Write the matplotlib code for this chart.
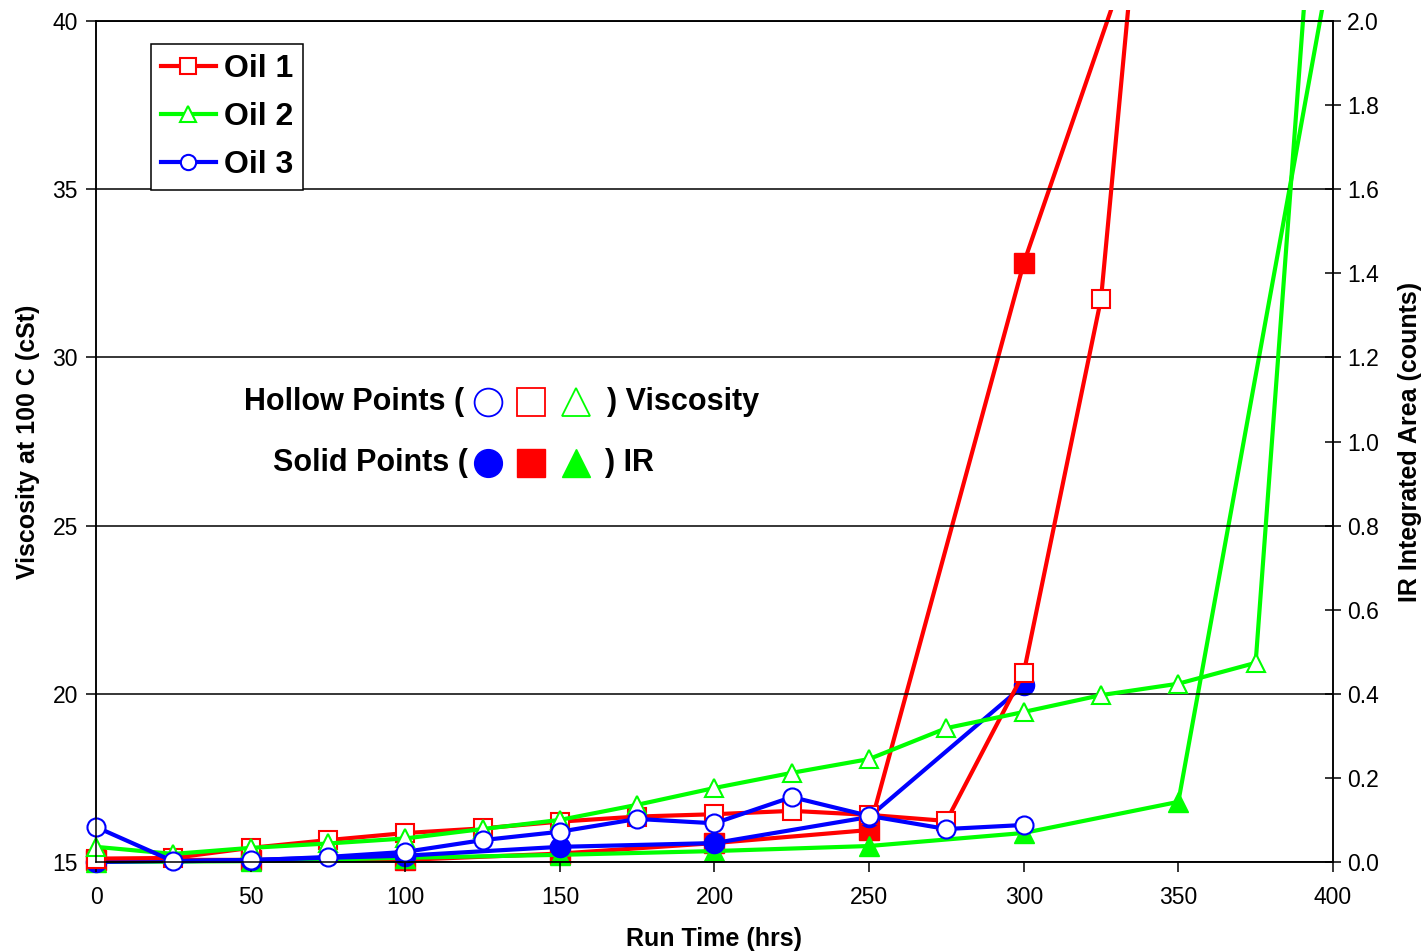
import matplotlib
matplotlib.use('Agg')
import matplotlib.pyplot as plt
from matplotlib.ticker import MultipleLocator, FormatStrFormatter
from matplotlib.transforms import Bbox, TransformedBbox

plt.rcParams['font.family'] = ['Liberation Sans', 'DejaVu Sans']

# run time (hrs)
hours_visc_1 = [0, 25, 50, 75, 100, 125, 150, 175, 200, 225, 250, 275, 300, 325, 350]
hours_visc_2 = [0, 25, 50, 75, 100, 125, 150, 175, 200, 225, 250, 275, 300, 325, 350, 375, 400]
hours_visc_3 = [0, 25, 50, 75, 100, 125, 150, 175, 200, 225, 250, 275, 300]

# viscosity at 100 C (cSt) - hollow points
visc_oil1 = [15.1, 15.12, 15.42, 15.65, 15.86, 16.0, 16.2, 16.35, 16.42, 16.52, 16.4, 16.22, 20.62, 31.74, 56.3]
visc_oil2 = [15.45, 15.24, 15.42, 15.55, 15.7, 15.98, 16.25, 16.7, 17.2, 17.65, 18.06, 18.98, 19.46,
             19.96, 20.3, 20.92, 52.1]
visc_oil3 = [16.04, 15.02, 15.05, 15.15, 15.3, 15.65, 15.9, 16.28, 16.15, 16.93, 16.37, 15.98, 16.1]

# IR integrated area (counts) - solid points
hours_ir_1 = [0, 50, 100, 150, 200, 250, 300, 350]
hours_ir_2 = [0, 50, 100, 150, 200, 250, 300, 350, 400]
hours_ir_3 = [0, 50, 100, 150, 200, 250, 300]
ir_oil1 = [0.005, 0.005, 0.005, 0.02, 0.045, 0.076, 1.424, 2.49]
ir_oil2 = [0.0, 0.002, 0.01, 0.017, 0.026, 0.038, 0.069, 0.143, 2.17]
ir_oil3 = [0.0, 0.005, 0.015, 0.036, 0.045, 0.107, 0.42]

RED = '#ff0000'
GREEN = '#00ff00'
BLUE = '#0000ff'

fig = plt.figure(figsize=(14.25, 9.51), dpi=100)
ax = fig.add_axes([0.0674, 0.0936, 0.8680, 0.8843])
ax2 = ax.twinx()

lw = 3.0
# solid (IR) on right axis
s1, = ax2.plot(hours_ir_1, ir_oil1, color=RED, lw=lw, marker='s', ms=15, mfc=RED, mec=RED)
s2, = ax2.plot(hours_ir_2, ir_oil2, color=GREEN, lw=lw, marker='^', ms=15, mfc=GREEN, mec=GREEN)
s3, = ax2.plot(hours_ir_3, ir_oil3, color=BLUE, lw=lw, marker='o', ms=14.5, mfc=BLUE, mec=BLUE)
# hollow (viscosity) on left axis
h1, = ax.plot(hours_visc_1, visc_oil1, color=RED, lw=lw, marker='s', ms=12.5, mfc='white', mec=RED, mew=1.5, label='Oil 1')
h2, = ax.plot(hours_visc_2, visc_oil2, color=GREEN, lw=lw, marker='^', ms=13.5, mfc='white', mec=GREEN, mew=1.5, label='Oil 2')
h3, = ax.plot(hours_visc_3, visc_oil3, color=BLUE, lw=lw, marker='o', ms=13, mfc='white', mec=BLUE, mew=1.5, label='Oil 3')

# let markers at the edges show, lines cut a little above the top
clip = TransformedBbox(Bbox([[-0.03, -0.03], [1.03, 1.013]]), ax.transAxes)
for ln in [s1, s2, s3, h1, h2, h3]:
    ln.set_clip_box(clip)

ax.set_zorder(ax2.get_zorder() + 1)
ax.patch.set_visible(False)

ax.set_xlim(0, 400)
ax.set_ylim(15, 40)
ax2.set_ylim(0, 2.0)
ax.xaxis.set_major_locator(MultipleLocator(50))
ax.yaxis.set_major_locator(MultipleLocator(5))
ax2.yaxis.set_major_locator(MultipleLocator(0.2))
ax2.yaxis.set_major_formatter(FormatStrFormatter('%.1f'))

ax.yaxis.grid(True, color='black', lw=1.1)
ax.tick_params(axis='both', labelsize=16.5, direction='out', length=7, width=1.1)
ax.tick_params(axis='x', pad=10)
ax.tick_params(axis='y', pad=6)
ax2.tick_params(axis='y', labelsize=16.5, direction='inout', length=12, width=1.1, pad=4)
for sp in list(ax.spines.values()) + list(ax2.spines.values()):
    sp.set_linewidth(1.1)

ax.set_xlabel('Run Time (hrs)', fontsize=18, fontweight='bold', labelpad=13)
ax.set_ylabel('Viscosity at 100 C (cSt)', fontsize=18, fontweight='bold', labelpad=9)
ax2.set_ylabel('IR Integrated Area (counts)', fontsize=18, fontweight='bold', labelpad=14)

leg = ax.legend(handles=[h1, h2, h3], loc='upper left', bbox_to_anchor=(0.0445, 0.9727),
                borderaxespad=0, prop={'weight': 'bold', 'size': 23},
                handlelength=1.7, handletextpad=0.25, labelspacing=0.56,
                borderpad=0.32, fancybox=False, edgecolor='black', framealpha=1)
leg.get_frame().set_linewidth(1.1)
for h in leg.legend_handles:
    h.set_markersize(11)

# marker key text
def fx(px):
    return (px - 96) / 1237.0

def fy(py):
    return (862 - py) / 841.0

ax.text(fx(464), fy(402), 'Hollow Points (', transform=ax.transAxes, ha='right', va='center',
        fontsize=22, fontweight='bold')
ax.text(fx(607), fy(402), ') Viscosity', transform=ax.transAxes, ha='left', va='center',
        fontsize=22, fontweight='bold')
ax.text(fx(468), fy(463), 'Solid Points (', transform=ax.transAxes, ha='right', va='center',
        fontsize=22, fontweight='bold')
ax.text(fx(605), fy(463), ') IR', transform=ax.transAxes, ha='left', va='center',
        fontsize=22, fontweight='bold')
key_x = [fx(488), fx(531), fx(576)]
key_m = ['o', 's', '^']
key_c = [BLUE, RED, GREEN]
for x, m, c in zip(key_x, key_m, key_c):
    ax.plot([x], [fy(402)], transform=ax.transAxes, marker=m, ms=20, mfc='white', mec=c, mew=1.3, clip_on=False)
    ax.plot([x], [fy(463)], transform=ax.transAxes, marker=m, ms=20, mfc=c, mec=c, clip_on=False)

fig.savefig('out.png', dpi=100)
